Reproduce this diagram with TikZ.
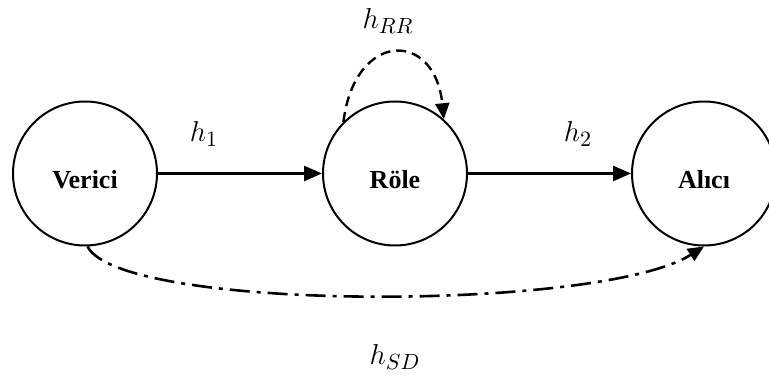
\documentclass[tikz,border=0pt]{standalone}
\usepackage{fontspec}
\newfontfamily\tnr{Liberation Serif}
\usetikzlibrary{arrows.meta,shapes.geometric,positioning}
\tikzset{
  station/.style={circle, draw=black, line width=1pt, minimum size=72pt, inner sep=0pt,
    font=\tnr\bfseries\fontsize{13}{15}\selectfont, text height=15pt, text depth=0pt},
  chan/.style={font=\fontsize{15.5}{18}\selectfont, inner sep=0pt},
  link/.style={-{Triangle[length=9pt, width=7.5pt]}, line width=1.4pt},
  selflink/.style={-{Triangle[length=8pt, width=7pt]}, line width=1.2pt,
    dash pattern=on 5pt off 3pt},
  direct/.style={-{Triangle[length=8pt, width=7pt]}, line width=1.3pt,
    dash pattern=on 10pt off 3.5pt on 2pt off 3.5pt},
}
\begin{document}
\begin{tikzpicture}[x=0.5pt, y=-0.5pt]
\useasboundingbox (0,0) rectangle (769,378);
% Stations
\node[station] (ver)  at (85,173.5)  {Verici};
\node[station] (role) at (395,173.5) {Röle};
\node[station] (alc)  at (704,173.5) {Alıcı};
% Channel labels
\node[chan] (h1)  at (204,134) {$h_1$};
\node[chan] (h2)  at (578,134) {$h_2$};
\node[chan] (hrr) at (388,21)  {$h_{RR}$};
\node[chan] (hsd) at (395,357) {$h_{SD}$};
% Links
\draw[link] (ver) -- (role);
\draw[link] (role) -- (alc);
\draw[selflink] (role.135) .. controls (355,30) and (435,30) .. (role.48);
\draw[direct] (ver.272) .. controls (120,312) and (600,312) .. (alc.270);
\end{tikzpicture}
\end{document}
